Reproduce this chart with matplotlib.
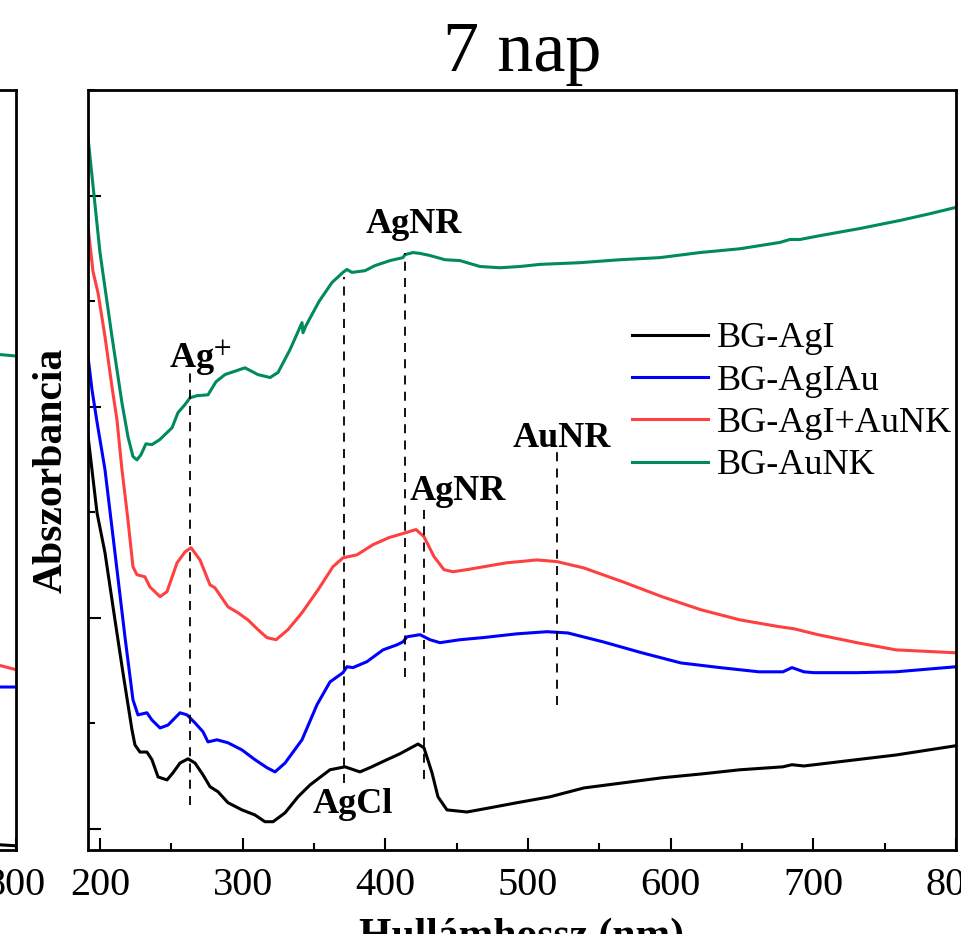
import matplotlib.pyplot as plt
from matplotlib.ticker import MultipleLocator

plt.rcParams['font.family'] = ['Liberation Serif', 'DejaVu Serif']
plt.rcParams['mathtext.fontset'] = 'stix'

# UV-Vis spektrumok, 7 nap (hullamhossz nm, abszorbancia tetsz. egyseg)
wl_agi = [191.6, 197.9, 203.5, 210.5, 216.1, 222.4, 224.5, 228.0, 232.9, 236.4, 240.7, 247.0, 251.2, 256.1,
          261.7, 266.6, 272.2, 277.1, 282.7, 289.7, 299.5, 308.6, 315.6, 321.3, 329.7, 338.8, 347.2, 361.2,
          371.7, 382.2, 389.2, 401.2, 410.3, 415.2, 422.9, 427.1, 432.7, 436.9, 443.2, 457.2, 473.4, 492.3,
          515.4, 539.2, 566.6, 593.9, 621.2, 648.6, 678.7, 685.0, 693.4, 730.6, 757.9, 800.0]
a_agi = [0.931, 0.749, 0.654, 0.495, 0.370, 0.235, 0.199, 0.182, 0.182, 0.164, 0.123, 0.116, 0.133, 0.156,
         0.166, 0.156, 0.128, 0.100, 0.088, 0.062, 0.045, 0.033, 0.017, 0.017, 0.038, 0.076, 0.104, 0.140,
         0.147, 0.135, 0.145, 0.164, 0.178, 0.187, 0.201, 0.192, 0.133, 0.076, 0.045, 0.040, 0.050, 0.062,
         0.076, 0.097, 0.109, 0.121, 0.130, 0.140, 0.147, 0.152, 0.149, 0.164, 0.175, 0.197]

wl_agiau = [191.6, 194.4, 197.9, 203.5, 210.5, 217.5, 223.1, 226.6, 232.9, 236.4, 242.1, 247.7, 256.1, 261.0,
            266.6, 272.2, 275.7, 282.0, 289.7, 299.5, 308.6, 317.0, 322.7, 329.7, 341.6, 352.1, 361.2, 370.3,
            373.1, 377.3, 387.1, 398.4, 408.2, 412.4, 415.2, 424.3, 431.3, 438.3, 452.3, 468.4, 492.3, 513.3,
            528.0, 552.6, 579.9, 607.2, 634.6, 661.9, 678.7, 685.0, 693.4, 700.4, 730.6, 757.9, 800.0]
a_agiau = [1.118, 1.040, 0.964, 0.851, 0.654, 0.455, 0.306, 0.270, 0.275, 0.258, 0.239, 0.246, 0.275, 0.270,
           0.251, 0.230, 0.206, 0.211, 0.204, 0.187, 0.164, 0.145, 0.135, 0.156, 0.211, 0.294, 0.348, 0.370,
           0.384, 0.382, 0.396, 0.424, 0.436, 0.443, 0.455, 0.460, 0.448, 0.441, 0.448, 0.453, 0.462, 0.467,
           0.464, 0.443, 0.417, 0.393, 0.382, 0.372, 0.372, 0.382, 0.372, 0.370, 0.370, 0.372, 0.384]

wl_agi_aunk = [191.6, 195.1, 198.6, 203.5, 208.4, 211.9, 215.4, 219.6, 223.1, 225.9, 231.5, 235.0, 242.1, 247.0,
               254.0, 259.6, 263.8, 270.1, 277.1, 280.6, 289.7, 296.7, 303.7, 310.7, 317.0, 323.4, 331.8, 341.6,
               352.8, 363.3, 370.3, 380.1, 391.3, 402.6, 413.8, 421.5, 427.1, 434.1, 441.1, 447.4, 457.2, 484.6,
               506.3, 520.3, 539.2, 566.6, 593.9, 621.2, 648.6, 675.9, 686.4, 703.2, 730.6, 757.9, 800.0]
a_agi_aunk = [1.427, 1.320, 1.270, 1.166, 1.047, 0.969, 0.851, 0.732, 0.621, 0.602, 0.597, 0.573, 0.550, 0.562,
              0.630, 0.656, 0.666, 0.637, 0.578, 0.571, 0.526, 0.512, 0.495, 0.472, 0.453, 0.448, 0.472, 0.512,
              0.566, 0.621, 0.642, 0.649, 0.673, 0.690, 0.701, 0.709, 0.692, 0.645, 0.614, 0.609, 0.614, 0.630,
              0.637, 0.633, 0.618, 0.585, 0.550, 0.519, 0.495, 0.479, 0.474, 0.460, 0.441, 0.424, 0.417]

wl_aunk = [191.6, 196.0, 200.0, 208.4, 215.4, 219.6, 223.1, 225.9, 228.7, 232.2, 236.4, 241.9, 250.5, 254.7,
           259.6, 263.1, 268.0, 275.7, 281.3, 287.6, 301.6, 310.7, 319.2, 324.8, 333.2, 341.6, 342.3, 344.4,
           353.5, 362.6, 370.3, 373.1, 376.6, 385.7, 392.7, 403.3, 412.4, 413.8, 419.4, 424.3, 431.3, 441.8,
           452.3, 466.3, 480.4, 494.4, 508.4, 536.4, 564.5, 592.5, 620.5, 648.6, 676.6, 683.6, 690.6, 704.6,
           732.7, 760.7, 781.7, 800.0]
a_aunk = [1.637, 1.495, 1.365, 1.166, 1.009, 0.929, 0.882, 0.874, 0.886, 0.912, 0.910, 0.922, 0.950, 0.986,
          1.005, 1.021, 1.026, 1.028, 1.059, 1.076, 1.092, 1.076, 1.069, 1.081, 1.135, 1.199, 1.175, 1.192,
          1.249, 1.294, 1.318, 1.325, 1.318, 1.322, 1.334, 1.346, 1.353, 1.360, 1.365, 1.363, 1.358, 1.348,
          1.346, 1.332, 1.329, 1.332, 1.337, 1.341, 1.348, 1.353, 1.365, 1.374, 1.389, 1.396, 1.396, 1.405,
          1.422, 1.441, 1.457, 1.472]

names = ['BG-AgI', 'BG-AgIAu', 'BG-AgI+AuNK', 'BG-AuNK']
colors = ['#000000', '#0000ff', '#ff4040', '#008a5e']

# szomszedos panel vege (bal szel)
wl_prev = [780, 790, 800]
a_prev = [[-0.035, -0.038, -0.040], [0.337, 0.336, 0.336], [0.391, 0.386, 0.377], [1.125, 1.123, 1.120]]

# szaggatott jelolo vonalak es feliratok
dash_x = [263.1, 370.7, 414.1, 427.1, 520.3]
dash_lo = [0.057, 0.109, 0.360, 0.118, 0.294]
dash_hi = [1.093, 1.306, 1.365, 0.768, 0.898]
lab_text = ['AgNR', 'Ag$^{+}$', 'AgNR', 'AuNR', 'AgCl']
lab_x = [420.1, 270.1, 450.9, 523.8, 377.3]
lab_y = [1.412, 1.092, 0.780, 0.905, 0.038]

fig = plt.figure(figsize=(9.61, 9.34), dpi=100)


def style(ax):
    ax.set_xlim(191.6, 800)
    ax.set_ylim(-0.05, 1.75)
    ax.xaxis.set_major_locator(MultipleLocator(100))
    ax.xaxis.set_minor_locator(MultipleLocator(50))
    ax.yaxis.set_major_locator(MultipleLocator(0.5))
    ax.yaxis.set_minor_locator(MultipleLocator(0.25))
    ax.tick_params(which='both', direction='in', top=False, right=False, labelleft=False, width=1.5)
    ax.tick_params(which='major', length=9, labelsize=29, pad=12)
    ax.tick_params(which='minor', length=5)
    for s in ax.spines.values():
        s.set_linewidth(2)


ax0 = fig.add_axes([-0.88658, 0.08994, 0.90323, 0.8137])
style(ax0)
ax0.set_xticks([800])
for a, c in zip(a_prev, colors):
    ax0.plot(wl_prev, a, color=c, lw=2.2)

ax = fig.add_axes([0.09157, 0.08994, 0.90323, 0.8137])
style(ax)
series = [(wl_agi, a_agi), (wl_agiau, a_agiau), (wl_agi_aunk, a_agi_aunk), (wl_aunk, a_aunk)]
for (w, a), c, n in zip(series, colors, names):
    ax.plot(w, a, color=c, lw=2.2, label=n)

ax.vlines(dash_x, dash_lo, dash_hi, colors='k', linestyles=(0, (5, 4)), lw=1.3)
for t, x, y in zip(lab_text, lab_x, lab_y):
    ax.text(x, y, t, fontsize=26, fontweight='bold', ha='center', va='baseline')

ax.legend(loc='upper left', bbox_to_anchor=(0.627, 0.6945), frameon=False, fontsize=26,
          handlelength=2.1, handletextpad=0.25, labelspacing=0.25, borderpad=0, borderaxespad=0)

ax.set_title('7 nap', fontsize=52, pad=14)
ax.set_xlabel('Hullámhossz (nm)', fontsize=30, fontweight='bold', labelpad=10)
ax.set_ylabel('Abszorbancia', fontsize=30, fontweight='bold')
ax.yaxis.set_label_coords(-0.02, 0.5)

fig.savefig('out.png', dpi=100)
